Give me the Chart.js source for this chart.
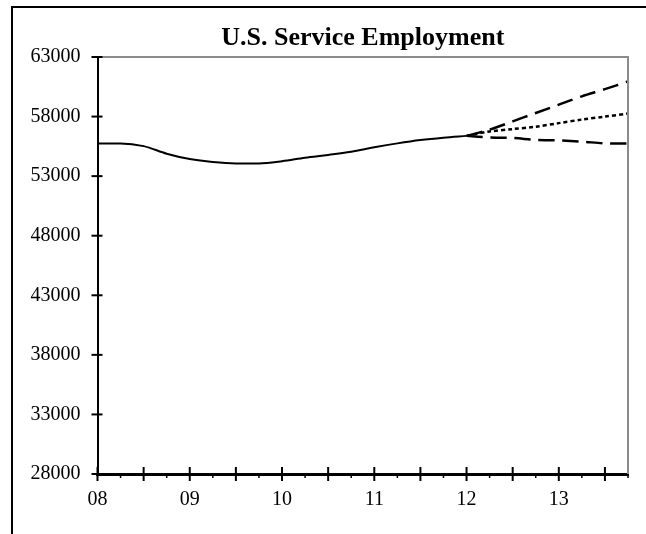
<!DOCTYPE html>
<html>
<head>
<meta charset="utf-8">
<script src="https://cdn.jsdelivr.net/npm/chart.js@4/dist/chart.umd.min.js"></script>
<style>
  html, body { margin: 0; padding: 0; background: #fff; }
  #wrap { width: 646px; height: 534px; }
</style>
</head>
<body>
<div id="wrap"><canvas id="serviceChart" width="646" height="534"></canvas></div>
<script>
// quarterly, 2008Q1 .. 2013Q4
const quarters = [
  '08Q1', '08Q2', '08Q3', '08Q4', '09Q1', '09Q2', '09Q3', '09Q4',
  '10Q1', '10Q2', '10Q3', '10Q4', '11Q1', '11Q2', '11Q3', '11Q4',
  '12Q1', '12Q2', '12Q3', '12Q4', '13Q1', '13Q2', '13Q3', '13Q4'
];
const yTicks = [28000, 33000, 38000, 43000, 48000, 53000, 58000, 63000];
const titleText = 'U.S. Service Employment';

const actual = [
  55740, 55740, 55520, 54880, 54430, 54180, 54070, 54070,
  54250, 54550, 54780, 55050, 55420, 55750, 56030, 56230,
  56380, null, null, null, null, null, null, null
];
const highCase = [
  null, null, null, null, null, null, null, null,
  null, null, null, null, null, null, null, null,
  56380, 56900, 57600, 58300, 59000, 59700, 60300, 60950
];
const midCase = [
  null, null, null, null, null, null, null, null,
  null, null, null, null, null, null, null, null,
  56380, 56750, 56950, 57150, 57450, 57750, 58000, 58250
];
const lowCase = [
  null, null, null, null, null, null, null, null,
  null, null, null, null, null, null, null, null,
  56380, 56250, 56200, 56050, 56000, 55900, 55750, 55730
];

const serif = "'Liberation Serif', 'DejaVu Serif', serif";

// outer frame (left + top edge of the picture)
const framePlugin = {
  id: 'frame',
  beforeDraw(chart) {
    const c = chart.ctx;
    c.save();
    c.fillStyle = '#fff';
    c.fillRect(0, 0, chart.width, chart.height);
    c.strokeStyle = '#000';
    c.lineWidth = 2;
    c.beginPath();
    c.moveTo(12, chart.height);
    c.lineTo(12, 7);
    c.lineTo(chart.width, 7);
    c.stroke();
    c.restore();
  }
};

// title centred over the plot, gray top/right border, crossing tick marks
const axisMarks = {
  id: 'axisMarks',
  afterDraw(chart) {
    const { ctx: c, chartArea: a, scales } = chart;
    c.save();
    c.fillStyle = '#000';
    c.font = 'bold 26px ' + serif;
    c.textAlign = 'center';
    c.textBaseline = 'middle';
    c.fillText(titleText, (a.left + a.right) / 2, 38);

    c.strokeStyle = '#8c8c8c';
    c.lineWidth = 2;
    c.beginPath();
    c.moveTo(a.left, a.top);
    c.lineTo(a.right, a.top);
    c.lineTo(a.right, a.bottom);
    c.stroke();

    c.strokeStyle = '#000';
    c.lineWidth = 2;
    scales.y.ticks.forEach((t) => {
      const py = scales.y.getPixelForValue(t.value);
      c.beginPath();
      c.moveTo(a.left - 6, py);
      c.lineTo(a.left + 5, py);
      c.stroke();
    });
    quarters.forEach((q, i) => {
      const px = scales.x.getPixelForValue(i);
      c.beginPath();
      if (i % 2 === 0) {
        c.lineWidth = 2;
        c.moveTo(px, a.bottom - 7);
        c.lineTo(px, a.bottom + 7);
      } else {
        c.lineWidth = 1.5;
        c.moveTo(px, a.bottom);
        c.lineTo(px, a.bottom + 4);
      }
      c.stroke();
    });
    c.restore();
  }
};

const ctx = document.getElementById('serviceChart').getContext('2d');

new Chart(ctx, {
  type: 'line',
  data: {
    labels: quarters,
    datasets: [
      { label: 'Actual', data: actual, borderColor: '#000', borderWidth: 2, cubicInterpolationMode: 'monotone' },
      { label: 'High', data: highCase, borderColor: '#000', borderWidth: 2.5, borderDash: [16, 8], tension: 0.3 },
      { label: 'Mid', data: midCase, borderColor: '#000', borderWidth: 2.5, borderDash: [4, 3], tension: 0.3 },
      { label: 'Low', data: lowCase, borderColor: '#000', borderWidth: 2.5, borderDash: [16, 8], tension: 0.3 }
    ]
  },
  options: {
    responsive: false,
    animation: false,
    layout: { padding: { left: 12.5, right: 18, top: 57, bottom: 0 } },
    elements: { point: { radius: 0 } },
    plugins: {
      legend: { display: false },
      tooltip: { enabled: false },
      title: { display: false }
    },
    scales: {
      x: {
        type: 'category',
        offset: false,
        grid: { display: false, drawTicks: false },
        border: { display: true, color: '#000', width: 3 },
        ticks: {
          autoSkip: false,
          maxRotation: 0,
          padding: 14,
          color: '#000',
          font: { family: serif, size: 20 },
          callback: (v, i) => (i % 4 === 0 ? quarters[i].slice(0, 2) : '')
        },
        afterFit: (s) => { s.height = 60; }
      },
      y: {
        min: 28000,
        max: 63000,
        grid: { display: false, drawTicks: false },
        border: { display: true, color: '#000', width: 2 },
        afterBuildTicks: (s) => { s.ticks = yTicks.map((v) => ({ value: v })); },
        ticks: {
          padding: 17,
          color: '#000',
          font: { family: serif, size: 20 },
          callback: (v) => String(v)
        },
        afterFit: (s) => { s.width = 85; }
      }
    }
  },
  plugins: [framePlugin, axisMarks]
});
</script>
</body>
</html>
